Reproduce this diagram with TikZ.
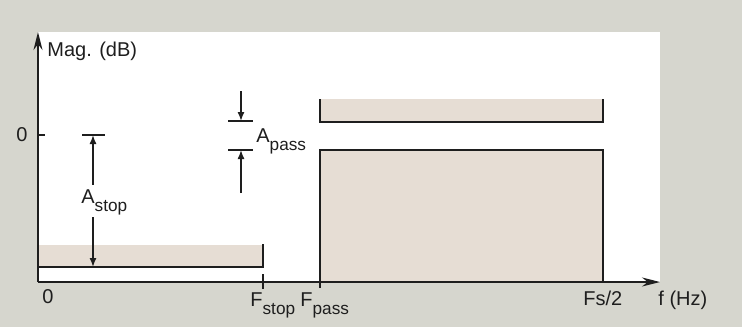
\documentclass[tikz,border=0pt]{standalone}
\usepackage{fontspec}
\setmainfont{Liberation Sans}
\usetikzlibrary{arrows.meta,positioning}
\definecolor{specgray}{HTML}{D6D6CE}
\definecolor{specband}{HTML}{E6DDD4}
\definecolor{specline}{HTML}{1E1E1E}
\newcommand{\lowsub}[1]{\raisebox{-4.2pt}{\fontsize{8.6}{9}\selectfont #1}}
\begin{document}
\begin{tikzpicture}[
  x=0.5pt, y=-0.5pt,
  lbl/.style={font=\fontsize{10}{11}\selectfont, inner sep=0pt, text=specline},
  edge/.style={specline, line width=0.9pt},
  dim/.style={specline, line width=0.7pt, -{Latex[length=4.5pt,width=3.5pt]}},
  axis/.style={specline, line width=0.9pt, -{Stealth[length=9pt,width=4.5pt]}}
]
\useasboundingbox (0,0) rectangle (742,327);
\fill[specgray] (0,0) rectangle (742,327);
\fill[white] (38,32) rectangle (660,282);
% tolerance bands
\fill[specband] (38,245) rectangle (263,267);
\draw[edge] (38,267) -- (263,267) -- (263,244);
\fill[specband] (320,99) rectangle (603,122);
\draw[edge] (320,99) -- (320,122) -- (603,122) -- (603,99);
\fill[specband] (320,150) rectangle (603,282);
\draw[edge] (320,288) -- (320,150) -- (603,150) -- (603,282);
% axes
\coordinate (origin) at (38,282);
\coordinate (xend) at (660,282);
\coordinate (yend) at (38,32);
\draw[axis] (origin) -- (xend);
\draw[axis] (origin) -- (yend);
\draw[edge] (38,135) -- (45,135);
\draw[edge] (263,274) -- (263,289);
% axis labels
\node[lbl, anchor=base west] (maglbl) at (47,56) {Mag. (dB)};
\node[lbl, anchor=base east] (zeroy) at (28,141) {0};
\node[lbl, anchor=base] (zerox) at (48,303) {0};
\node[lbl, anchor=base west] (fstop) at (250,306) {F\lowsub{stop}};
\node[lbl, anchor=base west] (fpass) at (300,306) {F\lowsub{pass}};
\node[lbl, anchor=base west] (fshalf) at (583,305) {Fs/2};
\node[lbl, anchor=base west] (freq) at (658,305) {f (Hz)};
% stopband attenuation
\coordinate (astoptop) at (93,135);
\coordinate (astopbot) at (93,267);
\draw[edge] (82,135) -- (105,135);
\node[lbl, anchor=base west] (astop) at (81,203) {A\lowsub{stop}};
\draw[dim] ([yshift=2pt]astop.north -| astoptop) -- (astoptop);
\draw[dim] ([yshift=-1pt]astop.south -| astopbot) -- (astopbot);
% passband ripple
\coordinate (apasstop) at (241,121);
\coordinate (apassbot) at (241,150);
\coordinate (apassin) at (241,91);
\coordinate (apassout) at (241,193);
\draw[edge] (228,121) -- (253,121);
\draw[edge] (228,150) -- (253,150);
\draw[dim] (apassin) -- (apasstop);
\draw[dim] (apassout) -- (apassbot);
\node[lbl, anchor=base west] (apass) at (256,142) {A\lowsub{pass}};
\end{tikzpicture}
\end{document}
